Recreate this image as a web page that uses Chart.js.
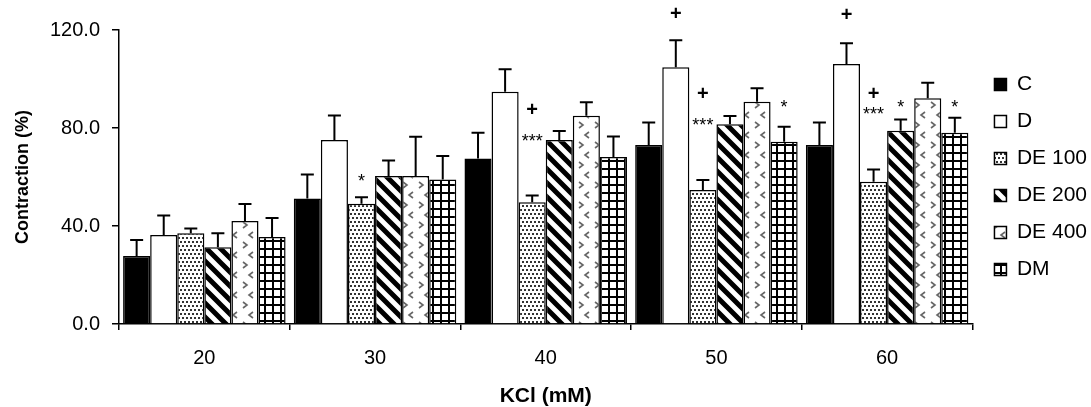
<!DOCTYPE html>
<html>
<head>
<meta charset="utf-8">
<script src="https://cdn.jsdelivr.net/npm/chart.js@4/dist/chart.umd.min.js"></script>
<style>
  html, body { margin: 0; padding: 0; background: #fff; }
  #contenedor { width: 1091px; height: 407px; }
</style>
</head>
<body>
<div id="contenedor"><canvas id="canvas"></canvas></div>
<script>
// concentraciones de KCl (eje x)
const categorias = ['20', '30', '40', '50', '60'];
const ticksY = [0, 40, 80, 120];

// medias y errores de cada grupo
const valC = [27.8, 51.2, 67.6, 73.1, 73.1];
const errC = [6.5, 9.8, 10.5, 9.1, 9.1];
const valD = [36.3, 75.1, 94.8, 104.8, 106.1];
const errD = [8.0, 10.0, 9.2, 11.0, 8.5];
const valDE100 = [37.0, 49.1, 49.7, 54.7, 58.1];
const errDE100 = [2.0, 2.6, 2.7, 4.1, 5.0];
const valDE200 = [31.3, 60.4, 75.1, 81.5, 78.9];
const errDE200 = [5.7, 6.3, 3.7, 3.4, 4.6];
const valDE400 = [42.0, 60.4, 85.0, 90.7, 92.1];
const errDE400 = [7.0, 16.0, 5.5, 5.5, 6.4];
const valDM = [35.5, 59.0, 68.2, 74.4, 78.1];
const errDM = [7.8, 9.6, 8.3, 6.1, 6.1];

// marcas de significancia: categoria, serie, texto, altura (en %)
const marcaCat = ['30', '40', '40', '50', '50', '50', '50', '60', '60', '60', '60', '60'];
const marcaSerie = ['DE 100', 'DE 100', 'DE 100', 'D', 'DE 100', 'DE 100', 'DM', 'D', 'DE 100', 'DE 100', 'DE 200', 'DM'];
const marcaTexto = ['*', '+', '***', '+', '+', '***', '*', '+', '+', '***', '*', '*'];
const marcaAltura = [59.6, 87.1, 75.9, 126.5, 93.5, 82.6, 89.8, 126, 93.5, 86.9, 89.8, 89.8];

const fuente = "'Liberation Sans', Arial, sans-serif";

// crea un patron de relleno a partir de un canvas chico
const hacerPatron = (w, h, dibujar) => {
    var c = document.createElement('canvas');
    c.width = w;
    c.height = h;
    var x = c.getContext('2d');
    x.fillStyle = '#fff';
    x.fillRect(0, 0, w, h);
    dibujar(x);
    return x.createPattern(c, 'repeat');
}

const puntos = hacerPatron(4, 8, (x) => {
    x.fillStyle = '#333';
    x.fillRect(0, 1, 2, 2);
    x.fillRect(2, 5, 2, 2);
});

const rayas = hacerPatron(14, 14, (x) => {
    x.strokeStyle = '#000';
    x.lineWidth = 5;
    x.beginPath();
    for (let k = -14; k <= 14; k += 14) {
        x.moveTo(k - 2, -2);
        x.lineTo(k + 16, 16);
    }
    x.stroke();
});

const flechas = hacerPatron(16, 20, (x) => {
    x.strokeStyle = '#666';
    x.lineWidth = 1.6;
    x.beginPath();
    x.moveTo(3, 2); x.lineTo(7, 5); x.lineTo(3, 8);
    x.moveTo(13, 12); x.lineTo(9, 15); x.lineTo(13, 18);
    x.stroke();
});

const cuadricula = hacerPatron(8, 8, (x) => {
    x.fillStyle = '#000';
    x.fillRect(0, 0, 8, 2);
    x.fillRect(0, 0, 2, 8);
});

const serie = (nombre, valores, errores, relleno) => {
    return {
        label: nombre,
        data: valores,
        errores: errores,
        backgroundColor: relleno,
        borderColor: '#000',
        borderWidth: 1.5,
        categoryPercentage: 0.952,
        barPercentage: 1.0
    };
}

// dibuja las barras de error (solo hacia arriba)
const barrasError = {
    id: 'barrasError',
    afterDatasetsDraw(chart) {
        var ctx = chart.ctx;
        var escalaY = chart.scales.y;
        chart.data.datasets.forEach((ds, i) => {
            var meta = chart.getDatasetMeta(i);
            meta.data.forEach((barra, j) => {
                var tope = escalaY.getPixelForValue(ds.data[j] + ds.errores[j]);
                ctx.save();
                ctx.strokeStyle = '#000';
                ctx.lineWidth = 2;
                ctx.beginPath();
                ctx.moveTo(barra.x, barra.y);
                ctx.lineTo(barra.x, tope);
                ctx.moveTo(barra.x - 6.5, tope);
                ctx.lineTo(barra.x + 6.5, tope);
                ctx.stroke();
                ctx.restore();
            });
        });
    }
};

// escribe los simbolos de significancia
const marcas = {
    id: 'marcas',
    afterDraw(chart) {
        var ctx = chart.ctx;
        var escalaY = chart.scales.y;
        for (let i = 0; i < marcaTexto.length; i++) {
            var nSerie = chart.data.datasets.findIndex(d => d.label === marcaSerie[i]);
            var nCat = categorias.indexOf(marcaCat[i]);
            var barra = chart.getDatasetMeta(nSerie).data[nCat];
            ctx.save();
            ctx.fillStyle = '#000';
            ctx.textAlign = 'center';
            ctx.textBaseline = 'middle';
            if (marcaTexto[i] === '+') {
                ctx.font = 'bold 20px ' + fuente;
                ctx.fillText('+', barra.x, escalaY.getPixelForValue(marcaAltura[i]));
            } else {
                ctx.font = '18px ' + fuente;
                ctx.fillText(marcaTexto[i], barra.x, escalaY.getPixelForValue(marcaAltura[i]) + 4);
            }
            ctx.restore();
        }
    }
};

// corro la leyenda un poco a la derecha, como en el original
const moverLeyenda = {
    id: 'moverLeyenda',
    afterLayout(chart) {
        if (chart.legend) {
            chart.legend.left += 6;
            chart.legend.right += 6;
        }
    }
};

var miCanvas = document.getElementById('canvas');
var grafico = new Chart(miCanvas.getContext('2d'), {
    type: 'bar',
    data: {
        labels: categorias,
        datasets: [
            serie('C', valC, errC, '#000'),
            serie('D', valD, errD, '#fff'),
            serie('DE 100', valDE100, errDE100, puntos),
            serie('DE 200', valDE200, errDE200, rayas),
            serie('DE 400', valDE400, errDE400, flechas),
            serie('DM', valDM, errDM, cuadricula)
        ]
    },
    options: {
        responsive: true,
        maintainAspectRatio: false,
        animation: false,
        devicePixelRatio: 1,
        layout: { padding: { top: 30, right: 0, bottom: 0, left: 0 } },
        plugins: {
            tooltip: { enabled: false },
            legend: {
                position: 'right',
                fullSize: false,
                maxWidth: 121,
                labels: {
                    boxWidth: 12,
                    boxHeight: 12,
                    padding: 16,
                    color: '#000',
                    font: { family: fuente, size: 21 }
                }
            }
        },
        scales: {
            x: {
                afterFit: (s) => { s.height = 83; },
                border: { display: true, color: '#000', width: 1.5 },
                grid: { display: true, drawOnChartArea: false, drawTicks: true, tickLength: 6, color: '#000', lineWidth: 1.5 },
                ticks: { color: '#000', padding: 16, font: { family: fuente, size: 20 } },
                title: {
                    display: true,
                    text: 'KCl (mM)',
                    color: '#000',
                    padding: { top: 0, bottom: 0 },
                    font: { family: fuente, size: 21, weight: 'bold', lineHeight: 1 }
                }
            },
            y: {
                min: 0,
                max: 120,
                afterFit: (s) => { s.width = 119; },
                afterBuildTicks: (s) => { s.ticks = ticksY.map(v => ({ value: v })); },
                border: { display: true, color: '#000', width: 1.5 },
                grid: { display: true, drawOnChartArea: false, drawTicks: true, tickLength: 7, color: '#000', lineWidth: 1.5 },
                ticks: {
                    color: '#000',
                    padding: 12,
                    font: { family: fuente, size: 20 },
                    callback: (v) => Number(v).toFixed(1)
                },
                title: {
                    display: true,
                    text: 'Contraction (%)',
                    color: '#000',
                    padding: { top: 12, bottom: 0 },
                    font: { family: fuente, size: 18, weight: 'bold' }
                }
            }
        }
    },
    plugins: [barrasError, marcas, moverLeyenda]
});
</script>
</body>
</html>
